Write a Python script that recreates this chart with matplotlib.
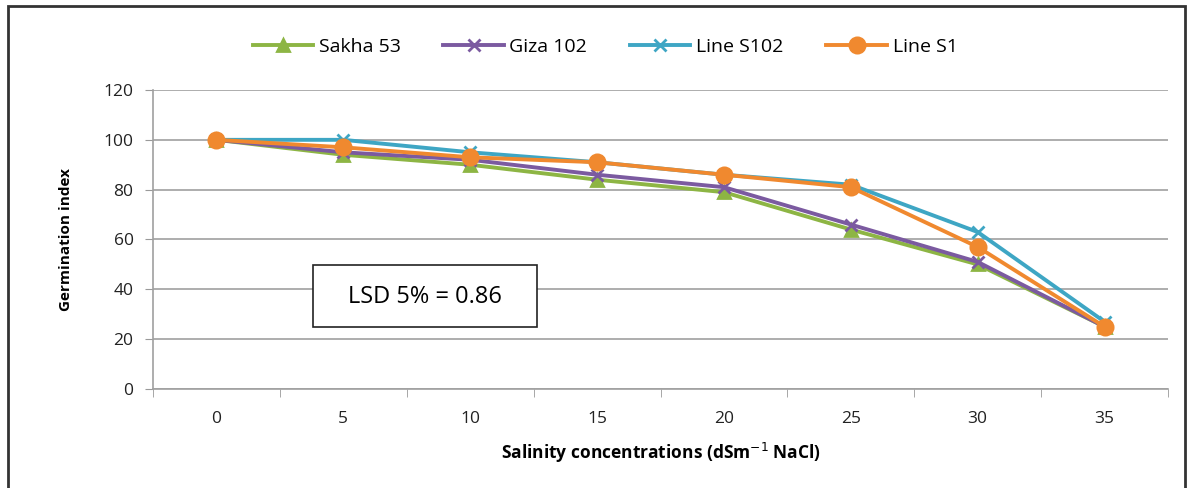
import matplotlib
matplotlib.use("Agg")
import matplotlib.pyplot as plt
from matplotlib.patches import Rectangle

categories = ["0", "5", "10", "15", "20", "25", "30", "35"]
sakha53 = [100, 94, 90, 84, 79, 64, 50, 25]
giza102 = [100, 95, 92, 86, 81, 66, 51, 25]
line_s102 = [100, 100, 95, 91, 86, 82, 63, 27]
line_s1 = [100, 97, 93, 91, 86, 81, 57, 25]
series_names = ["Sakha 53", "Giza 102", "Line S102", "Line S1"]

plt.rcParams['font.family'] = ['Open Sans', 'DejaVu Sans']

fig = plt.figure(figsize=(11.93, 4.88), dpi=100)
ax = fig.add_axes([153/1193, 99/488, (1168-153)/1193, (389-90)/488])

x = list(range(len(categories)))
styles = [
    (sakha53, "#8DB544", "^", 9),
    (giza102, "#7B5AA0", "x", 8),
    (line_s102, "#3EA6C4", "x", 9),
    (line_s1, "#F0892F", "o", 11),
]
for (vals, col, mk, ms), name in zip(styles, series_names):
    ax.plot(x, vals, color=col, lw=2.8, marker=mk, ms=ms, mew=2, label=name,
            markeredgecolor=col, markerfacecolor=col)

ax.set_xlim(-0.5, len(categories) - 0.5)
ax.set_ylim(0, 120)
ax.set_yticks(range(0, 121, 20))
ax.set_xticks(x)
ax.set_xticklabels(categories)
ax.set_xticks([i - 0.5 for i in range(len(categories) + 1)], minor=True)
ax.tick_params(axis='x', which='major', length=0, pad=16, labelsize=12.5, colors='#222222')
ax.tick_params(axis='x', which='minor', length=6, color='#999999', direction='out')
ax.tick_params(axis='y', length=6, color='#999999', labelsize=12.5, colors='#222222', pad=8)
ax.yaxis.grid(True, color='#A0A0A0', lw=1.2)
ax.set_axisbelow(True)
for s in ['top', 'right']:
    ax.spines[s].set_visible(False)
for s in ['left', 'bottom']:
    ax.spines[s].set_color('#A0A0A0')
    ax.spines[s].set_linewidth(1.2)

ax.set_ylabel("Germination index", fontsize=11, fontweight='bold', labelpad=22)
ax.set_xlabel("Salinity concentrations (dSm$^{-1}$ NaCl)", fontsize=12.5, fontweight='bold', labelpad=10)

leg = fig.legend(loc='center', bbox_to_anchor=(605/1193, 1 - 47/488), ncol=4, frameon=False,
                 fontsize=14, handlelength=3.1, columnspacing=2.2, handletextpad=0.3)

# LSD box
fig.patches.append(Rectangle((313/1193, 1 - 327/488), (537-313)/1193, (327-265)/488,
                             transform=fig.transFigure, fill=True, facecolor='white',
                             edgecolor='#222222', lw=1.2, zorder=5))
fig.text(425/1193, 1 - 297/488, "LSD 5% = 0.86", ha='center', va='center', fontsize=17, zorder=6)

# outer frame
fig.patches.append(Rectangle((8/1193, -0.05), (1185-8)/1193, 1.05 - 6/488,
                             transform=fig.transFigure, fill=False, edgecolor='#333333', lw=2))

fig.savefig("out.png", dpi=100)
